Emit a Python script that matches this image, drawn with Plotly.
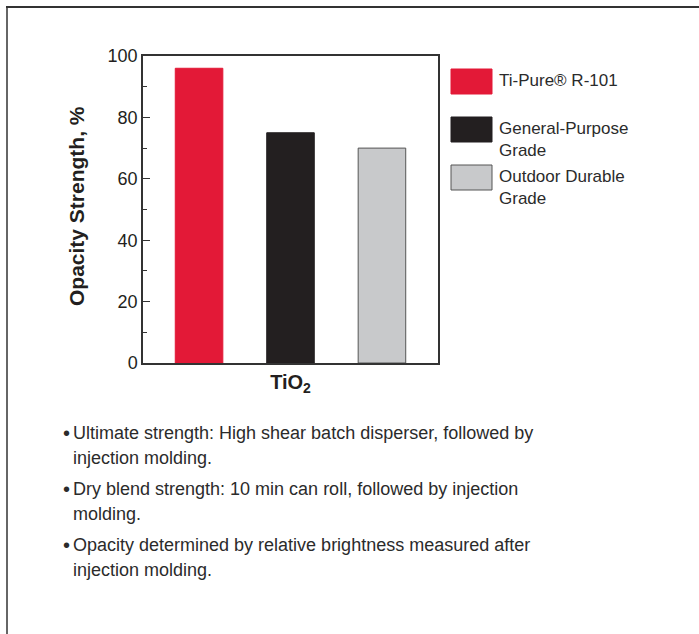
import plotly.graph_objects as go

# ---- data ----
categories = ["<b>TiO<sub>2</sub></b>"]
series_names = ["Ti-Pure® R-101", "General-Purpose<br>Grade", "Outdoor Durable<br>Grade"]
legend_lines = [["Ti-Pure® R-101"], ["General-Purpose", "Grade"], ["Outdoor Durable", "Grade"]]
values = [96, 75, 70]
colors = ["#e31937", "#231f20", "#c8c9cb"]
border_colors = ["#e31937", "#231f20", "#555555"]
y_ticks = [0, 20, 40, 60, 80, 100]
y_title = "Opacity Strength, %"
notes = [
    ["Ultimate strength: High shear batch disperser, followed by", "injection molding."],
    ["Dry blend strength: 10 min can roll, followed by injection", "molding."],
    ["Opacity determined by relative brightness measured after", "injection molding."],
]

W, H = 699, 634
L, R, T, B = 143, 438, 56, 363
TXT = "#2b2b2b"
SANS = "Liberation Sans, Arial, sans-serif"


def px(x):
    return (x - L) / (R - L)


def py(y):
    return (B - y) / (B - T)


fig = go.Figure()
for name, v, c, bc in zip(series_names, values, colors, border_colors):
    fig.add_trace(go.Bar(
        x=categories, y=[v], name=name,
        marker=dict(color=c, line=dict(color=bc, width=1)),
        showlegend=False, hoverinfo="skip",
    ))

shapes = []
annotations = []

# outer frame
shapes.append(dict(type="line", xref="paper", yref="paper",
                   x0=px(7), x1=px(7), y0=py(700), y1=py(6),
                   line=dict(color="#333333", width=1.5)))
shapes.append(dict(type="line", xref="paper", yref="paper",
                   x0=px(6), x1=px(760), y0=py(7), y1=py(7),
                   line=dict(color="#333333", width=2)))

# legend (manual, large swatches)
sw_tops = [69, 117, 165]
text_first = [80, 128, 176]
for i, (lines, c, bc) in enumerate(zip(legend_lines, colors, border_colors)):
    shapes.append(dict(type="rect", xref="paper", yref="paper",
                       x0=px(451), x1=px(492), y0=py(sw_tops[i]), y1=py(sw_tops[i] + 25),
                       fillcolor=c, line=dict(color=bc, width=1)))
    for j, t in enumerate(lines):
        annotations.append(dict(xref="paper", yref="paper", x=px(497), y=py(text_first[i] + 22 * j),
                                xanchor="left", yanchor="middle", text=t, showarrow=False,
                                font=dict(family=SANS, size=17, color=TXT)))

# y-axis title
annotations.append(dict(xref="paper", yref="paper", x=px(76), y=py(206),
                        xanchor="center", yanchor="middle", textangle=-90,
                        text="<b>" + y_title + "</b>", showarrow=False,
                        font=dict(family=SANS, size=21, color="#231f20")))

# bullet notes
line_y = [[433, 458], [489, 514], [545, 570]]
for k, (lines, ys) in enumerate(zip(notes, line_y)):
    annotations.append(dict(xref="paper", yref="paper", x=px(72), y=py(ys[0]),
                            xanchor="right", yanchor="middle", text="•", showarrow=False,
                            font=dict(family=SANS, size=20, color=TXT)))
    for t, yy in zip(lines, ys):
        annotations.append(dict(xref="paper", yref="paper", x=px(71), y=py(yy),
                                xanchor="left", yanchor="middle", text=t, showarrow=False,
                                font=dict(family=SANS, size=18, color=TXT)))

fig.update_layout(
    width=W, height=H,
    margin=dict(l=L, r=W - R, t=T, b=H - B, pad=0),
    paper_bgcolor="white", plot_bgcolor="white",
    barmode="group", bargap=0.07, bargroupgap=0.48,
    shapes=shapes, annotations=annotations,
    font=dict(family=SANS, color=TXT),
)
fig.update_xaxes(
    showline=True, linecolor="#333333", linewidth=1.5, mirror=True,
    ticks="", showgrid=False, zeroline=False,
    tickfont=dict(family=SANS, size=20, color="#231f20"),
)
fig.update_yaxes(
    range=[0, 100], tickvals=y_ticks, showline=True, linecolor="#333333", linewidth=1.5,
    mirror=True, ticks="inside", ticklen=7, tickwidth=1, tickcolor="#333333",
    minor=dict(ticks="inside", ticklen=4, dtick=10, tickcolor="#333333", tickwidth=1),
    showgrid=False, zeroline=False,
    tickfont=dict(family=SANS, size=18, color="#231f20"),
)

fig.write_html("out.html", config={"displayModeBar": False},
               post_script="document.body.style.margin='0';")
